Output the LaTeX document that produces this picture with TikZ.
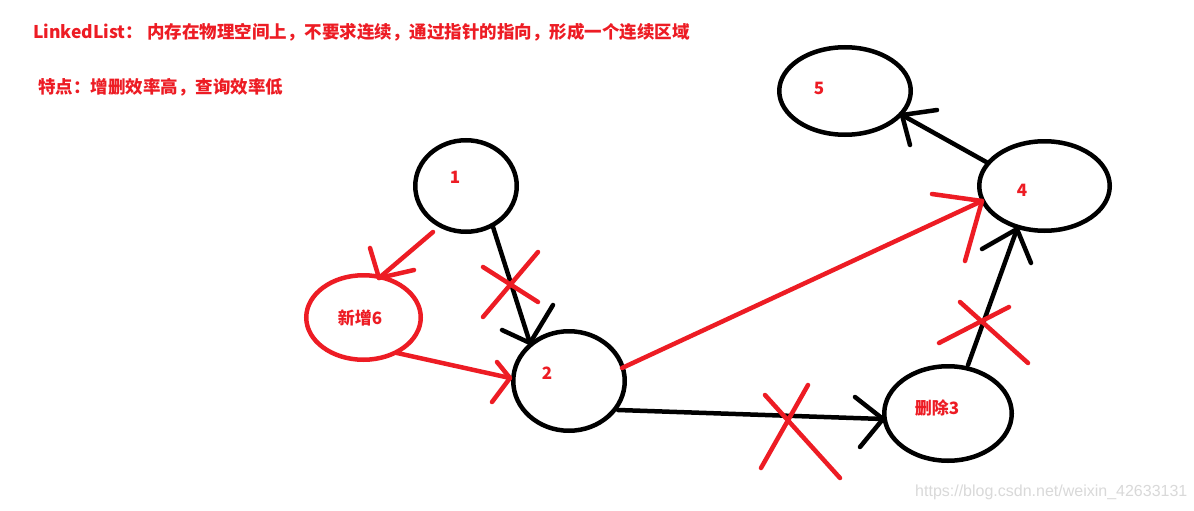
\documentclass[tikz,border=0pt]{standalone}
\usepackage{fontspec}
\setmainfont{Noto Sans CJK SC}
\newfontfamily\wmfont{Liberation Sans}
\usetikzlibrary{shapes.geometric,calc}
\definecolor{pred}{HTML}{ED1C24}
\definecolor{wmgray}{HTML}{D9D9D9}
\begin{document}
\begin{tikzpicture}[x=1pt,y=-1pt,
  ell/.style={ellipse,draw=black,line width=4.5pt,inner sep=0pt,outer sep=0pt},
  rell/.style={ellipse,draw=pred,line width=4.5pt,inner sep=0pt,outer sep=0pt},
  blk/.style={draw=black,line width=4.5pt,line cap=round,line join=round},
  rln/.style={draw=pred,line width=4.5pt,line cap=round,line join=round},
  lbl/.style={text=pred,font=\fontsize{17}{20}\selectfont\bfseries,inner sep=0pt},
  head/.style={text=pred,font=\fontsize{17.5}{21}\selectfont\bfseries,inner sep=0pt,anchor=west}]
\useasboundingbox[fill=white] (0,0) rectangle (1194,511);

% title texts
\node[head] (t1) at (33,32) {LinkedList： 内存在物理空间上，不要求连续，通过指针的指向，形成一个连续区域};
\node[head] (t2) at (38,87) {特点：增删效率高，查询效率低};

% nodes
\node[ell, minimum width=101.5pt, minimum height=91.5pt] (n1) at (466,186) {};
\node[rell,minimum width=114.5pt, minimum height=84.5pt] (n6) at (363.5,317.5) {};
\node[ell, minimum width=111.5pt, minimum height=99.5pt] (n2) at (569,381) {};
\node[ell, minimum width=127.5pt, minimum height=94.5pt] (n3) at (948,413.5) {};
\node[ell, minimum width=130.5pt, minimum height=89.5pt] (n4) at (1044.5,186) {};
\node[ell, minimum width=131.5pt, minimum height=87.5pt] (n5) at (845,91) {};

% labels
\node[lbl] (l1) at (455,177) {1};
\node[lbl] (l6) at (360,318) {新增6};
\node[lbl] (l2) at (547,373) {2};
\node[lbl] (l3) at (937,408) {删除3};
\node[lbl] (l4) at (1022,190) {4};
\node[lbl] (l5) at (819,88) {5};

% arrow tips
\coordinate (t16) at ($(n6)+(15.5,-39.5)$);
\coordinate (t12) at ($(n2)+(-39,-38)$);
\coordinate (t62) at ($(n2)+(-59,-3)$);
\coordinate (t24) at ($(n4)+(-62.5,15)$);
\coordinate (t23) at ($(n3)+(-65,5.5)$);
\coordinate (t34) at ($(n4)+(-27.5,43)$);
\coordinate (t45) at ($(n5)+(57,24)$);

% black connectors
\draw[blk] ($(n1)+(27,41)$) -- (t12);
\draw[blk] ($(t12)+(23,-38)$) -- (t12) -- ++(-28,-13);
\draw[blk] ($(n2)+(49,29)$) -- (t23);
\draw[blk] ($(t23)+(-28,-22)$) -- (t23) -- ++(-23,28);
\draw[blk] ($(n3)+(20,-48.5)$) -- (t34);
\draw[blk] ($(t34)+(-35,20)$) -- (t34) -- ++(14,34);
\draw[blk] ($(n4)+(-56.5,-23)$) -- (t45);
\draw[blk] ($(t45)+(35,-5)$) -- (t45) -- ++(8,30);

% red connectors
\draw[rln] ($(n1)+(-33,46)$) -- (t16);
\draw[rln] ($(t16)+(-9,-30)$) -- (t16) -- ++(35,-8);
\draw[rln] ($(n6)+(33.5,35.5)$) -- (t62);
\draw[rln] ($(t62)+(-13,-16)$) -- (t62) -- ++(-18,24);
\draw[rln] ($(n2)+(53,-13)$) -- (t24);
\draw[rln] ($(t24)+(-50,-7)$) -- (t24) -- ++(-17,60);

% red crosses
\draw[rln] (483,267) -- (538,302) (538,252) -- (483,317);
\draw[rln] (765,395) -- (840,478) (808,385) -- (761,468);
\draw[rln] (960,302) -- (1028,363) (1009,307) -- (939,343);

% watermark
\node[text=wmgray,font=\wmfont\fontsize{16}{18}\selectfont,inner sep=0pt,anchor=west] (wm) at (915,492) {https://blog.csdn.net/weixin\_42633131};
\end{tikzpicture}
\end{document}
